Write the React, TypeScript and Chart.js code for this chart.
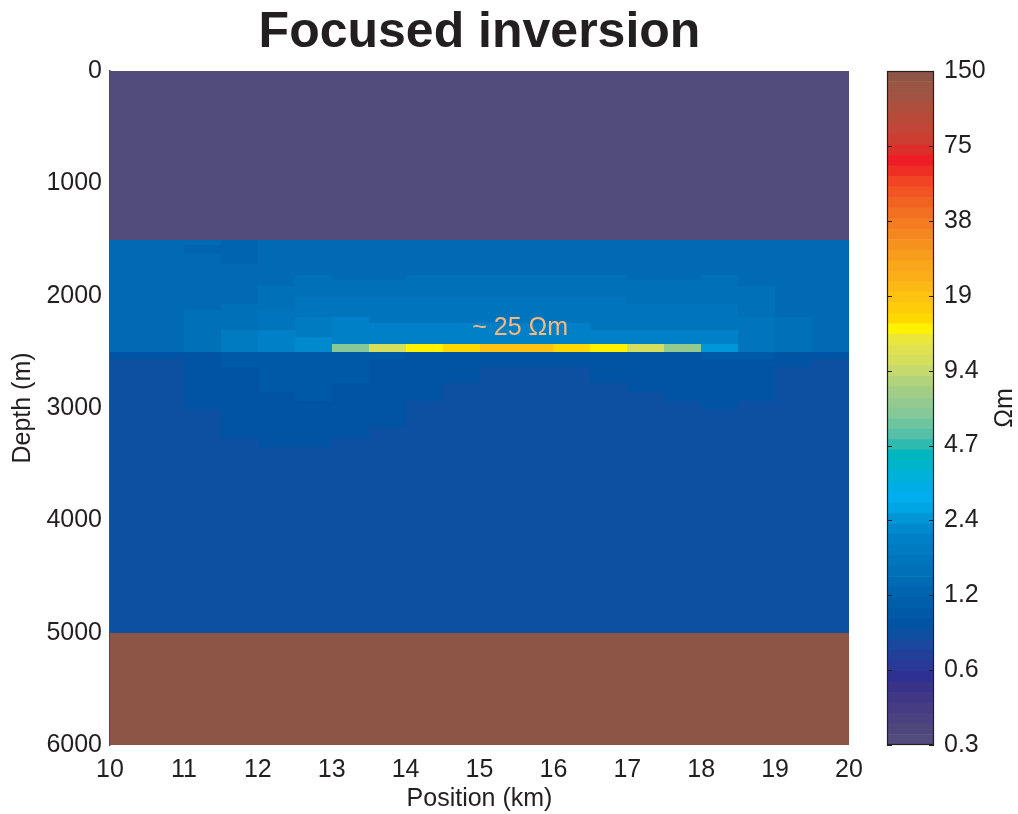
import React, { useEffect, useRef } from "react";
import { Chart, registerables } from "chart.js";

Chart.register(...registerables);

// ---------- texts ----------
const TITLE = "Focused inversion";
const X_LABEL = "Position (km)";
const Y_LABEL = "Depth (m)";
const CB_LABEL = "Ωm";
const ANNOT_TEXT = "~ 25 Ωm";
const ANNOT_AT = [15.55, 2290]; // km, m

// ---------- axes ----------
const positionTicks = [10, 11, 12, 13, 14, 15, 16, 17, 18, 19, 20];
const depthTicks = [0, 1000, 2000, 3000, 4000, 5000, 6000];
const cbTickValues = [0.3, 0.598, 1.193, 2.379, 4.744, 9.459, 18.86, 37.61, 75.0, 150];
const cbTickLabels = ["0.3", "0.6", "1.2", "2.4", "4.7", "9.4", "19", "38", "75", "150"];
const RHO_MIN = 0.3;
const RHO_MAX = 150;

// ---------- model mesh ----------
const positionEdges = [10, 10.5, 11, 11.5, 12, 12.5, 13, 13.5, 14, 14.5, 15, 15.5, 16, 16.5, 17, 17.5, 18, 18.5, 19, 19.5, 20];
const depthEdges = [0, 1500, 1550, 1630, 1720, 1815, 1860, 1915, 2010, 2075, 2130, 2190, 2245, 2305, 2370, 2430, 2500,
  2565, 2635, 2775, 2860, 2940, 3010, 3180, 3265, 3350, 5000, 6000];

// resistivity (ohm-m), one row per depth cell, one column per position cell
const rho = [
  [0.3, 0.3, 0.3, 0.3, 0.3, 0.3, 0.3, 0.3, 0.3, 0.3, 0.3, 0.3, 0.3, 0.3, 0.3, 0.3, 0.3, 0.3, 0.3, 0.3],
  [1.35, 1.35, 1.35, 1.22, 1.35, 1.35, 1.35, 1.35, 1.35, 1.35, 1.35, 1.35, 1.35, 1.35, 1.35, 1.35, 1.35, 1.35, 1.35, 1.35],
  [1.35, 1.35, 1.22, 1.22, 1.35, 1.35, 1.35, 1.35, 1.35, 1.35, 1.35, 1.35, 1.35, 1.35, 1.35, 1.35, 1.35, 1.35, 1.35, 1.35],
  [1.35, 1.35, 1.35, 1.22, 1.35, 1.35, 1.35, 1.35, 1.35, 1.35, 1.35, 1.35, 1.35, 1.35, 1.35, 1.35, 1.35, 1.35, 1.35, 1.35],
  [1.35, 1.35, 1.35, 1.35, 1.35, 1.35, 1.35, 1.35, 1.35, 1.35, 1.35, 1.35, 1.35, 1.35, 1.35, 1.35, 1.35, 1.35, 1.35, 1.35],
  [1.35, 1.35, 1.35, 1.35, 1.35, 1.49, 1.35, 1.35, 1.49, 1.49, 1.49, 1.49, 1.49, 1.49, 1.35, 1.35, 1.49, 1.35, 1.35, 1.35],
  [1.35, 1.35, 1.35, 1.35, 1.35, 1.49, 1.49, 1.49, 1.49, 1.49, 1.49, 1.49, 1.49, 1.49, 1.49, 1.49, 1.49, 1.35, 1.35, 1.35],
  [1.35, 1.35, 1.35, 1.35, 1.49, 1.49, 1.49, 1.49, 1.49, 1.49, 1.49, 1.49, 1.49, 1.49, 1.49, 1.49, 1.49, 1.49, 1.35, 1.35],
  [1.35, 1.35, 1.35, 1.35, 1.49, 1.64, 1.64, 1.64, 1.64, 1.64, 1.64, 1.64, 1.64, 1.64, 1.49, 1.49, 1.49, 1.49, 1.35, 1.35],
  [1.35, 1.35, 1.35, 1.49, 1.49, 1.64, 1.64, 1.64, 1.64, 1.64, 1.64, 1.64, 1.64, 1.64, 1.64, 1.64, 1.64, 1.49, 1.35, 1.35],
  [1.35, 1.35, 1.49, 1.49, 1.64, 1.64, 1.64, 1.64, 1.64, 1.64, 1.64, 1.64, 1.64, 1.64, 1.64, 1.64, 1.64, 1.49, 1.35, 1.35],
  [1.35, 1.35, 1.49, 1.49, 1.64, 1.81, 1.99, 1.64, 1.64, 1.64, 1.64, 1.64, 1.64, 1.64, 1.64, 1.64, 1.64, 1.64, 1.49, 1.35],
  [1.35, 1.35, 1.49, 1.49, 1.64, 1.81, 1.99, 1.99, 1.99, 1.99, 1.99, 1.99, 1.99, 1.64, 1.64, 1.64, 1.64, 1.64, 1.49, 1.35],
  [1.35, 1.35, 1.49, 1.81, 1.99, 1.81, 1.99, 1.99, 1.99, 1.99, 1.99, 1.99, 1.99, 1.99, 1.99, 1.99, 1.99, 1.64, 1.49, 1.35],
  [1.35, 1.35, 1.49, 1.81, 1.99, 2.19, 1.99, 1.99, 1.99, 1.99, 1.99, 1.99, 1.99, 1.99, 1.99, 1.99, 1.99, 1.64, 1.49, 1.35],
  [1.35, 1.35, 1.49, 1.81, 1.99, 2.19, 6.38, 10.4, 13.9, 15.3, 18.6, 18.6, 15.3, 13.9, 10.4, 7.03, 2.42, 1.64, 1.49, 1.35],
  [0.92, 0.92, 0.92, 1.01, 1.01, 1.01, 1.01, 1.01, 0.92, 0.92, 0.92, 0.92, 0.92, 0.92, 0.92, 0.92, 1.01, 1.01, 0.92, 0.92],
  [0.83, 0.83, 0.92, 1.01, 1.01, 1.01, 1.01, 0.92, 0.92, 0.92, 0.92, 0.92, 0.92, 0.92, 0.92, 0.92, 0.92, 0.92, 0.92, 0.83],
  [0.83, 0.83, 0.92, 0.92, 1.01, 1.01, 1.01, 0.92, 0.92, 0.92, 0.83, 0.83, 0.83, 0.92, 0.92, 0.92, 0.92, 0.92, 0.83, 0.83],
  [0.83, 0.83, 0.92, 0.92, 1.01, 1.01, 0.92, 0.92, 0.92, 0.83, 0.83, 0.83, 0.83, 0.83, 0.92, 0.92, 0.92, 0.92, 0.83, 0.83],
  [0.83, 0.83, 0.92, 0.92, 0.92, 1.01, 0.92, 0.92, 0.92, 0.83, 0.83, 0.83, 0.83, 0.83, 0.83, 0.92, 0.92, 0.92, 0.83, 0.83],
  [0.83, 0.83, 0.92, 0.92, 0.92, 0.92, 0.92, 0.92, 0.83, 0.83, 0.83, 0.83, 0.83, 0.83, 0.83, 0.83, 0.92, 0.83, 0.83, 0.83],
  [0.83, 0.83, 0.83, 0.92, 0.92, 0.92, 0.92, 0.92, 0.83, 0.83, 0.83, 0.83, 0.83, 0.83, 0.83, 0.83, 0.83, 0.83, 0.83, 0.83],
  [0.83, 0.83, 0.83, 0.92, 0.92, 0.92, 0.92, 0.83, 0.83, 0.83, 0.83, 0.83, 0.83, 0.83, 0.83, 0.83, 0.83, 0.83, 0.83, 0.83],
  [0.83, 0.83, 0.83, 0.83, 0.92, 0.92, 0.83, 0.83, 0.83, 0.83, 0.83, 0.83, 0.83, 0.83, 0.83, 0.83, 0.83, 0.83, 0.83, 0.83],
  [0.83, 0.83, 0.83, 0.83, 0.83, 0.83, 0.83, 0.83, 0.83, 0.83, 0.83, 0.83, 0.83, 0.83, 0.83, 0.83, 0.83, 0.83, 0.83, 0.83],
  [150, 150, 150, 150, 150, 150, 150, 150, 150, 150, 150, 150, 150, 150, 150, 150, 150, 150, 150, 150],
];

// ---------- colormap (64 discrete levels, log scale 0.3..150) ----------
const palette = [
  "#524c7c", "#4e477e", "#4a4280", "#453c83", "#3f3886", "#383389", "#2e3192", "#2a3896",
  "#22409a", "#1a489e", "#0d4fa0", "#0054a3", "#0059a6", "#005fab", "#0064b0", "#006ab5",
  "#0070b9", "#0075bd", "#007bc2", "#0081c7", "#0089cd", "#0097d8", "#00a5e4", "#00adef",
  "#00aee5", "#00b1d9", "#00b4cb", "#00b6bf", "#2ebaae", "#55bfa7", "#6ec49e", "#86c896",
  "#93cb8f", "#a0ce87", "#b1d37c", "#c5d96c", "#d6df5c", "#dfe250", "#eae73a", "#fff200",
  "#ffd800", "#ffcc0a", "#fec311", "#fcb815", "#fbae18", "#faa61a", "#f89c1c", "#f7911d",
  "#f6861f", "#f57c20", "#f36f21", "#f26322", "#f15523", "#f04425", "#ef2f24", "#ee1c25",
  "#dd2e2b", "#ce3d31", "#c34537", "#b84a3a", "#ae4f3e", "#a25342", "#9a5543", "#8d5545",
];

const FONT = "'Liberation Sans', Arial, Helvetica, sans-serif";
const INK = "#231f20";

function levelOf(v: number): number {
  const t = Math.log(v / RHO_MIN) / Math.log(RHO_MAX / RHO_MIN);
  return Math.max(0, Math.min(palette.length - 1, Math.floor(t * palette.length)));
}
function levelEdge(k: number): number {
  return RHO_MIN * Math.pow(RHO_MAX / RHO_MIN, k / palette.length);
}

const heatmapPlugin = {
  id: "heatmap",
  beforeDatasetsDraw(chart: any) {
    const { ctx, scales } = chart;
    const xs = scales.x;
    const ys = scales.y;
    ctx.save();
    for (let r = 0; r < rho.length; r++) {
      const y0 = Math.round(ys.getPixelForValue(depthEdges[r]));
      const y1 = Math.round(ys.getPixelForValue(depthEdges[r + 1]));
      for (let c = 0; c < rho[r].length; c++) {
        const x0 = Math.round(xs.getPixelForValue(positionEdges[c]));
        const x1 = Math.round(xs.getPixelForValue(positionEdges[c + 1]));
        ctx.fillStyle = palette[levelOf(rho[r][c])];
        ctx.fillRect(x0, y0, x1 - x0, y1 - y0);
      }
    }
    ctx.restore();
  },
};

const annotationPlugin = {
  id: "annot",
  afterDatasetsDraw(chart: any) {
    const { ctx, scales } = chart;
    ctx.save();
    ctx.font = `25px ${FONT}`;
    ctx.fillStyle = "#f6b97f";
    ctx.textAlign = "center";
    ctx.textBaseline = "middle";
    ctx.fillText(ANNOT_TEXT, scales.x.getPixelForValue(ANNOT_AT[0]), scales.y.getPixelForValue(ANNOT_AT[1]));
    ctx.restore();
  },
};

const colorbarFramePlugin = {
  id: "cbframe",
  afterDraw(chart: any) {
    const { ctx, chartArea: a, scales } = chart;
    const ys = scales.y;
    ctx.save();
    ctx.strokeStyle = INK;
    ctx.lineWidth = 1.2;
    ctx.strokeRect(a.left + 0.5, a.top + 0.5, a.right - a.left - 1, a.bottom - a.top - 1);
    ctx.beginPath();
    cbTickValues.forEach((v) => {
      const py = Math.round(ys.getPixelForValue(v)) + 0.5;
      ctx.moveTo(a.left, py);
      ctx.lineTo(a.left + 5, py);
      ctx.moveTo(a.right - 5, py);
      ctx.lineTo(a.right, py);
    });
    ctx.stroke();
    ctx.translate(127, (a.top + a.bottom) / 2);
    ctx.rotate(-Math.PI / 2);
    ctx.font = `25px ${FONT}`;
    ctx.fillStyle = INK;
    ctx.textAlign = "center";
    ctx.textBaseline = "middle";
    ctx.fillText(CB_LABEL, 0, 0);
    ctx.restore();
  },
};

export default function App() {
  const mainRef = useRef<HTMLCanvasElement>(null);
  const cbRef = useRef<HTMLCanvasElement>(null);

  useEffect(() => {
    const tickFont = { family: FONT, size: 25 };
    const main = new Chart(mainRef.current as HTMLCanvasElement, {
      type: "scatter",
      data: { datasets: [{ data: [] }] },
      options: {
        animation: false,
        responsive: true,
        maintainAspectRatio: false,
        layout: { padding: { left: 0, right: 29, top: 0, bottom: 0 } },
        plugins: {
          legend: { display: false },
          tooltip: { enabled: false },
          title: {
            display: true,
            text: TITLE,
            fullSize: false,
            color: INK,
            font: { family: FONT, size: 50, weight: "bold", lineHeight: 1 },
            padding: { top: 0, bottom: 13 },
          },
        },
        scales: {
          x: {
            type: "linear",
            min: 10,
            max: 20,
            afterBuildTicks: (s: any) => {
              s.ticks = positionTicks.map((v) => ({ value: v }));
            },
            ticks: { font: tickFont, color: INK, padding: 10, maxRotation: 0, callback: (v: any) => String(v) },
            grid: { display: false, drawTicks: false },
            border: { display: false },
            title: { display: true, text: X_LABEL, color: INK, font: tickFont, padding: { top: -11, bottom: 0 } },
          },
          y: {
            type: "linear",
            reverse: true,
            min: 0,
            max: 6000,
            z: 1,
            afterBuildTicks: (s: any) => {
              s.ticks = depthTicks.map((v) => ({ value: v }));
            },
            afterFit: (s: any) => {
              s.width = 102;
            },
            ticks: { font: tickFont, color: INK, padding: 8, callback: (v: any) => String(v) },
            grid: { display: false, drawTicks: false },
            border: { display: true, color: "#4d4d4d", width: 1.5 },
            title: { display: true, text: Y_LABEL, color: INK, font: tickFont, padding: { top: 0, bottom: 0 } },
          },
        },
      } as any,
      plugins: [heatmapPlugin, annotationPlugin],
    });

    const cb = new Chart(cbRef.current as HTMLCanvasElement, {
      type: "bar",
      data: {
        labels: [""],
        datasets: palette.map((color, k) => ({
          data: [[levelEdge(k), levelEdge(k + 1)]],
          backgroundColor: color,
          borderWidth: 0,
          grouped: false,
          barPercentage: 1,
          categoryPercentage: 1,
        })),
      } as any,
      options: {
        animation: false,
        responsive: true,
        maintainAspectRatio: false,
        layout: { padding: { left: 9, right: 0, top: 63, bottom: 69 } },
        plugins: { legend: { display: false }, tooltip: { enabled: false } },
        scales: {
          x: { display: false },
          y: {
            type: "logarithmic",
            position: "right",
            min: RHO_MIN,
            max: RHO_MAX,
            afterBuildTicks: (s: any) => {
              s.ticks = cbTickValues.map((v) => ({ value: v }));
            },
            afterFit: (s: any) => {
              s.width = 84;
            },
            ticks: {
              font: tickFont,
              color: INK,
              padding: 10,
              autoSkip: false,
              callback: (_v: any, i: number) => cbTickLabels[i],
            },
            grid: { display: false, drawTicks: false },
            border: { display: false },
          },
        },
      } as any,
      plugins: [colorbarFramePlugin],
    });

    return () => {
      main.destroy();
      cb.destroy();
    };
  }, []);

  return (
    <div style={{ position: "fixed", left: 0, top: 0, width: 1018, height: 814, background: "#fff" }}>
      <div style={{ position: "absolute", left: 8, top: 8, width: 870, height: 806 }}>
        <canvas ref={mainRef} />
      </div>
      <div style={{ position: "absolute", left: 878, top: 8, width: 140, height: 806 }}>
        <canvas ref={cbRef} />
      </div>
    </div>
  );
}
